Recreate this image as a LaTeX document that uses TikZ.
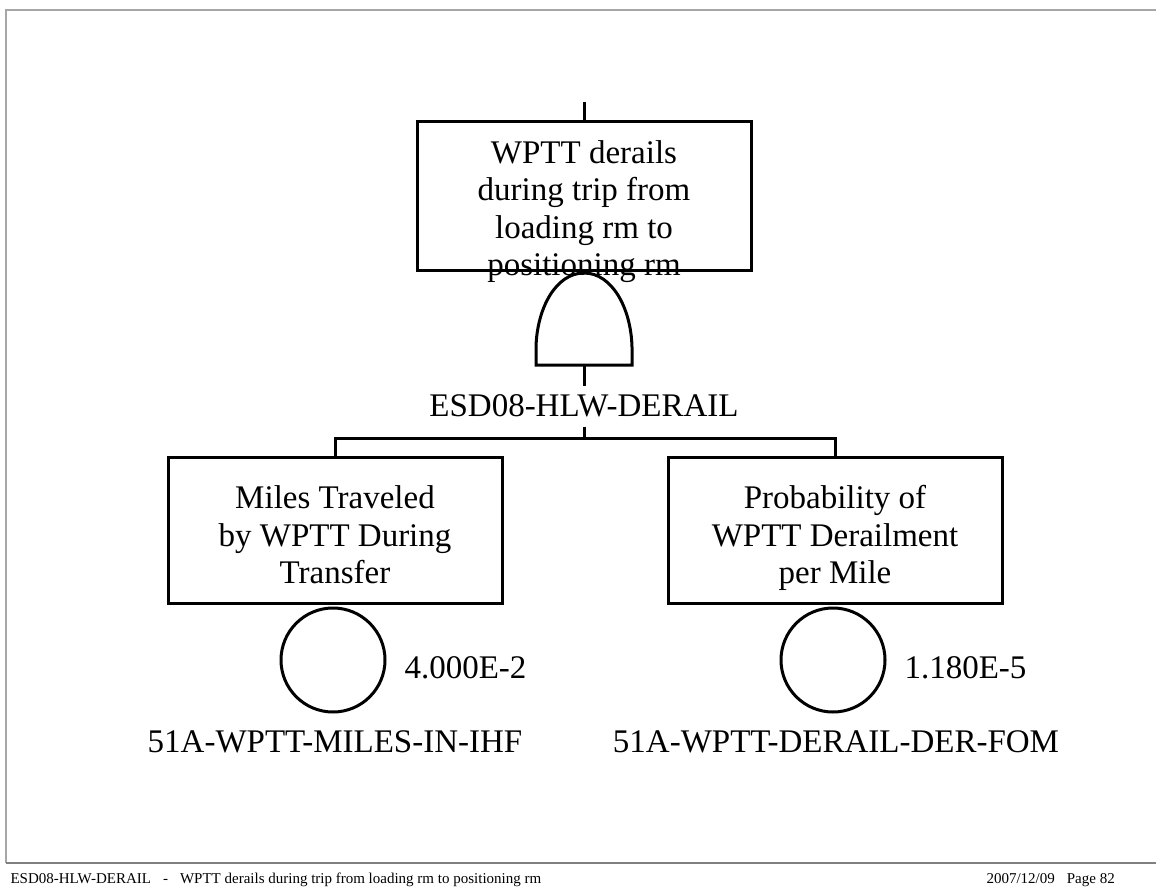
\documentclass[tikz,border=0pt]{standalone}
\usepackage{fontspec}
\setmainfont{Liberation Serif}
\begin{document}
\begin{tikzpicture}[x=1pt,y=-1pt,line width=3pt,inner sep=0pt,
  font=\fontsize{33}{37.5}\selectfont,
  evbox/.style={draw,rectangle,minimum width=334pt,minimum height=146pt,align=center},
  intxt/.style={text height=107pt,text depth=0pt},
  basic/.style={draw,circle,minimum size=104pt},
  gatelbl/.style={text height=29pt,text depth=9pt},
  frameline/.style={line width=1.5pt,gray!70},
  foot/.style={font=\fontsize{15}{18}\selectfont}]
  \useasboundingbox (0,0) rectangle (1156,888);

  % page frame and footer
  \draw[frameline] (6,863) -- (6,10) -- (1156,10);
  \draw[line width=1.2pt,gray] (6,863) -- (1156,863);
  \node[foot,anchor=base west] (ftitle) at (9,883)
    {ESD08-HLW-DERAIL\hspace{12pt}-\hspace{12pt}WPTT derails during trip from loading rm to positioning rm};
  \node[foot,anchor=base west] (fdate) at (985,883) {2007/12/09\hspace{12pt}Page 82};

  % top event and AND gate
  \coordinate (in) at (584,102);
  \node[evbox,minimum height=148pt] (top) at (584,196) {};
  \node[anchor=north,align=center] (toptxt) at (584,139)
    {WPTT derails\\during trip from\\loading rm to\\positioning rm};
  \draw (in) -- (top.north);
  \coordinate (gtop) at (584,273);
  \coordinate (gbot) at (584,365);
  \draw (top.south) -- (gtop);
  \draw (536,365) -- (536,347) .. controls (537,308) and (556,273) .. (gtop)
    .. controls (612,273) and (631,308) .. (632,347) -- (632,365) -- cycle;
  \node[gatelbl,anchor=base] (glbl) at (584,416) {ESD08-HLW-DERAIL};
  \draw (gbot) -- (glbl.north);

  % inputs
  \node[evbox,intxt] (miles) at (335,530) {Miles Traveled\\by WPTT During\\Transfer};
  \node[evbox,intxt] (derail) at (835,530) {Probability of\\WPTT Derailment\\per Mile};
  \draw (glbl.south) -- ++(0,12) coordinate (bar) -| (miles.north);
  \draw (bar) -| (derail.north);

  % basic events
  \node[basic] (milesev) at (333,660) {};
  \node[basic] (derailev) at (833,660) {};
  \node[anchor=base west] (milesp) at (403,678) {4.000E-2};
  \node[anchor=base west] (derailp) at (903,678) {1.180E-5};
  \node[anchor=base] (milesid) at (335,752) {51A-WPTT-MILES-IN-IHF};
  \node[anchor=base] (derailid) at (836,752) {51A-WPTT-DERAIL-DER-FOM};
\end{tikzpicture}
\end{document}
